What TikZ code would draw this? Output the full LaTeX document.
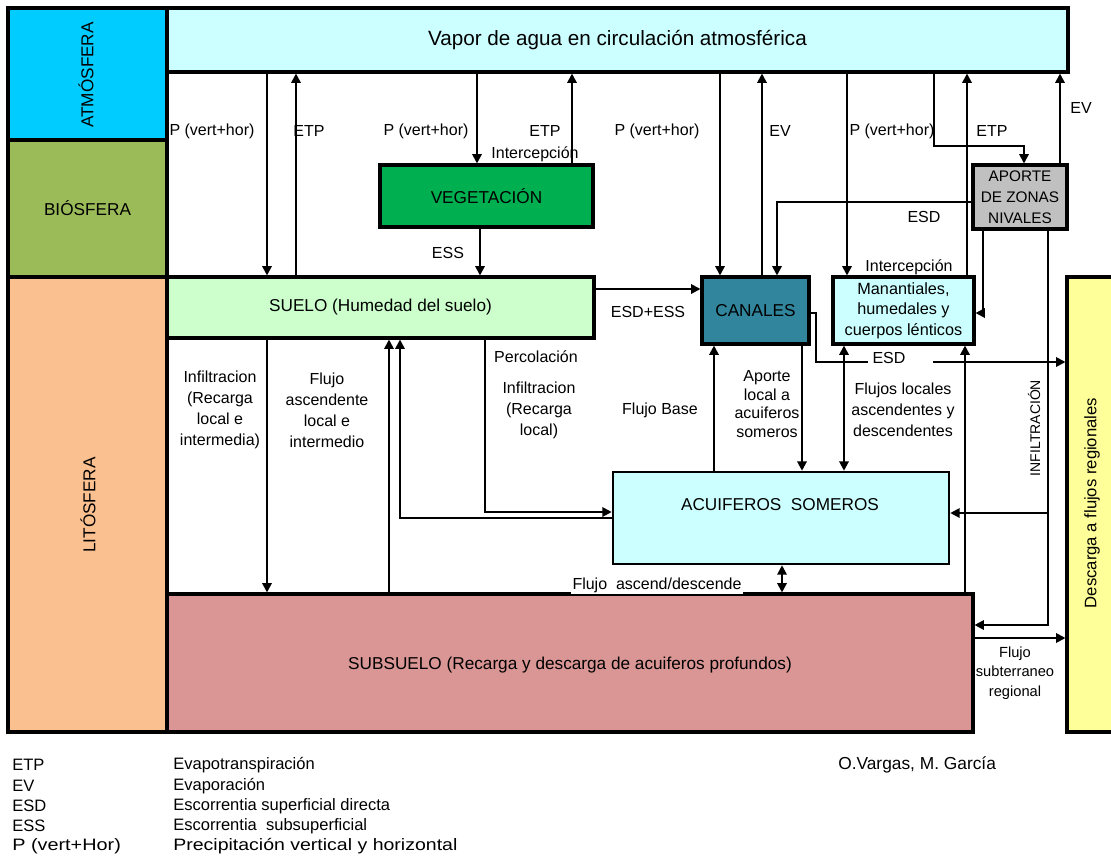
\documentclass[tikz,border=0pt]{standalone}
\usepackage{fontspec}
\setmainfont{Liberation Sans}
\usetikzlibrary{arrows.meta}

\definecolor{atmcol}{HTML}{00CCFF}
\definecolor{biocol}{HTML}{9BBB59}
\definecolor{litocol}{HTML}{FAC090}
\definecolor{vapcol}{HTML}{CCFFFF}
\definecolor{suelocol}{HTML}{CCFFCC}
\definecolor{vegcol}{HTML}{00B050}
\definecolor{cancol}{HTML}{31859C}
\definecolor{nivcol}{HTML}{C0C0C0}
\definecolor{subcol}{HTML}{D99694}
\definecolor{descol}{HTML}{FFFF99}

\newcommand\fTitle{\fontsize{15.5pt}{18pt}\selectfont}
\newcommand\fBox{\fontsize{12.9pt}{15.5pt}\selectfont}
\newcommand\fLab{\fontsize{12pt}{15.75pt}\selectfont}
\newcommand\fSmall{\fontsize{11pt}{14pt}\selectfont}
\newcommand\fLeg{\fontsize{12.4pt}{15pt}\selectfont}

\begin{document}
\begin{tikzpicture}[x=0.75pt,y=-0.75pt,
  sz/.style 2 args={minimum width=#1*0.75pt, minimum height=#2*0.75pt},
  box/.style={draw=black, line width=2.3pt, inner sep=0pt, align=center, font=\fBox},
  thinbox/.style={box, line width=1.9pt},
  tip/.tip={Triangle[length=7pt,width=7pt]},
  flow/.style={line width=1.5pt, -tip},
  flowboth/.style={line width=1.5pt, tip-tip},
  lab/.style={font=\fLab, align=center, inner sep=0pt},
  leg/.style={font=\fLeg, anchor=west, inner sep=0pt},
]
\useasboundingbox (0,0) rectangle (1111,865);
\fill[white] (0,0) rectangle (1111,865);
\clip (0,0) rectangle (1111,865);

% regional discharge strip on the right
\node[box, fill=descol, sz={60}{455}] (desc) at (1097,504.5) {};
\node[rotate=90, font=\fontsize{12.5pt}{15pt}\selectfont, inner sep=0pt] at (1092,503) {Descarga a flujos regionales};

% compartments
\node[box, fill=vapcol, sz={901}{64}] (vapor) at (617.5,40) {\fTitle Vapor de agua en circulación atmosférica};
\node[box, fill=vegcol, sz={213}{62}] (veg) at (486.5,196) {VEGETACIÓN};
\node[box, fill=suelocol, sz={427}{61}] (suelo) at (380.5,307.5) {SUELO (Humedad del suelo)};
\node[box, fill=cancol, sz={107}{67}] (canales) at (755.5,310.5) {CANALES};
\node[box, fill=vapcol, sz={141}{67}, font=\fontsize{12.2pt}{15.4pt}\selectfont] (manan) at (903.5,310.5) {Manantiales,\\humedales y\\cuerpos lénticos};
\node[box, fill=nivcol, sz={94}{64}, font=\fontsize{11.5pt}{15.6pt}\selectfont] (nival) at (1020,197) {APORTE\\DE ZONAS\\NIVALES};
\node[thinbox, fill=vapcol, sz={336}{92}] (acuif) at (781,518) {};
\node[font=\fBox, inner sep=0pt] at (780,505) {ACUIFEROS\ \ SOMEROS};
\node[box, fill=subcol, sz={806}{138}] (subs) at (570,663) {};
\node[font=\fBox, inner sep=0pt] at (570,665) {SUBSUELO (Recarga y descarga de acuiferos profundos)};

% spheres column
\node[box, fill=atmcol, sz={159}{132}] (atm) at (87.5,74) {};
\node[rotate=90, font=\fBox, inner sep=0pt] at (86,75) {ATMÓSFERA};
\node[box, fill=biocol, sz={159}{137}] (bio) at (87.5,208.5) {BIÓSFERA};
\node[box, fill=litocol, sz={159}{455}] (lito) at (87.5,504.5) {};
\node[rotate=90, font=\fBox, inner sep=0pt] at (88,505) {LITÓSFERA};

% atmosphere exchanges
\draw[flow] (267,0 |- vapor.south) -- (267,0 |- suelo.north);
\draw[flow] (296,0 |- suelo.north) -- (296,0 |- vapor.south);
\draw[flow] (477,0 |- vapor.south) -- (477,0 |- veg.north);
\draw[flow] (572,0 |- veg.north) -- (572,0 |- vapor.south);
\draw[flow] (480,0 |- veg.south) -- (480,0 |- suelo.north);
\draw[flow] (720,0 |- vapor.south) -- (720,0 |- canales.north);
\draw[flow] (762,0 |- canales.north) -- (762,0 |- vapor.south);
\draw[flow] (847,0 |- vapor.south) -- (847,0 |- manan.north);
\draw[flow] (967,0 |- manan.north) -- (967,0 |- vapor.south);
\draw[flow] (934,0 |- vapor.south) -- (934,146) -- (1024,146) -- (1024,0 |- nival.north);
\draw[flow] (1060,0 |- nival.north) -- (1060,0 |- vapor.south);

% surface runoff
\draw[flow] (suelo.east |- 0,289) -- (canales.west |- 0,289);
\draw[flow] (nival.west |- 0,202) -- (777,202) -- (777,0 |- canales.north);
\draw[flow] (983,0 |- nival.south) -- (983,313) -- (manan.east |- 0,313);
\draw[flow] (canales.east |- 0,313) -- (816,313) -- (816,362) -- (desc.west |- 0,362);
\fill[white] (868,354) rectangle (933,370);

% infiltration from snow zones
\draw[flow] (1048,0 |- nival.south) -- (1048,625) -- (subs.east |- 0,625);
\draw[flow] (1048,513) -- (acuif.east |- 0,513);
\draw[flow] (subs.east |- 0,638) -- (desc.west |- 0,638);

% shallow aquifer exchanges
\draw[flowboth] (844,0 |- manan.south) -- (844,0 |- acuif.north);
\draw[flow] (802,0 |- canales.south) -- (802,0 |- acuif.north);
\draw[flow] (714,0 |- acuif.north) -- (714,0 |- canales.south);
\draw[flow] (965,0 |- subs.north) -- (965,0 |- manan.south);
\draw[flowboth] (782,0 |- acuif.south) -- (782,0 |- subs.north);

% soil exchanges
\draw[flow] (267,0 |- suelo.south) -- (267,0 |- subs.north);
\draw[flow] (389,0 |- subs.north) -- (389,0 |- suelo.south);
\draw[flow] (acuif.west |- 0,518) -- (400,518) -- (400,0 |- suelo.south);
\draw[flow] (485,0 |- suelo.south) -- (485,512) -- (acuif.west |- 0,512);

% flow labels
\node[lab] at (212,131) {P (vert+hor)};
\node[lab] at (309,131) {ETP};
\node[lab] at (426,131) {P (vert+hor)};
\node[lab] at (545,131) {ETP};
\node[lab] at (535,154) {Intercepción};
\node[lab] at (448,253) {ESS};
\node[lab] at (657,131) {P (vert+hor)};
\node[lab] at (780,131) {EV};
\node[lab] at (892,131) {P (vert+hor)};
\node[lab] at (992,131) {ETP};
\node[lab] at (1081,108) {EV};
\node[lab] at (924,217) {ESD};
\node[lab] at (909,267) {Intercepción};
\node[lab] at (648,312) {ESD+ESS};
\node[lab] at (889,358) {ESD};
\node[lab] at (536,357) {Percolación};
\node[lab] at (539,410) {Infiltracion\\(Recarga\\local)};
\node[lab] at (220,410) {Infiltracion\\(Recarga\\local e\\intermedia)};
\node[lab] at (327,410) {Flujo\\ascendente\\local e\\intermedio};
\node[lab] at (660,410) {Flujo Base};
\node[lab, font=\fontsize{12pt}{13.9pt}\selectfont] at (767,404) {Aporte\\local a\\acuiferos\\someros};
\node[lab] at (903,410) {Flujos locales\\ascendentes y\\descendentes};
\node[rotate=90, font=\fontsize{10.5pt}{12pt}\selectfont, inner sep=0pt] at (1034,428) {INFILTRACIÓN};
\node[font=\fontsize{11pt}{14.5pt}\selectfont, align=center, inner sep=0pt] at (1015,673) {Flujo\\subterraneo\\regional};
\node[lab, fill=white, inner sep=1pt] at (657,585) {Flujo\ \ ascend/descende};

% legend
\node[leg] at (12,765) {ETP};
\node[leg] at (12,786) {EV};
\node[leg] at (12,806) {ESD};
\node[leg] at (12,826) {ESS};
\node[leg, xscale=1.2] at (12,846) {P (vert+Hor)};
\node[leg] at (173,765) {Evapotranspiración};
\node[leg] at (173,786) {Evaporación};
\node[leg] at (173,806) {Escorrentia superficial directa};
\node[leg] at (173,826) {Escorrentia\ \ subsuperficial};
\node[leg, xscale=1.18] at (173,846) {Precipitación vertical y horizontal};
\node[leg, font=\fontsize{13pt}{15pt}\selectfont] at (838,765) {O.Vargas, M. García};
\end{tikzpicture}
\end{document}
